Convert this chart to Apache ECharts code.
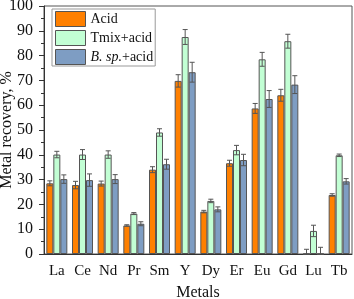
<!DOCTYPE html>
<html><head><meta charset="utf-8">
<script src="https://cdn.jsdelivr.net/npm/echarts@6/dist/echarts.min.js"></script>
<style>html,body{margin:0;padding:0;background:#fff}#c{width:354px;height:299px}</style>
</head><body><div id="c"></div>
<script>
var categories = ['La','Ce','Nd','Pr','Sm','Y','Dy','Er','Eu','Gd','Lu','Tb'];
var acid = [28.5, 27.8, 28.4, 11.5, 34, 69.8, 17.1, 36.6, 58.7, 64, 0, 23.8];
var tmix = [40.1, 40.1, 40.1, 16.3, 49, 87.5, 21.4, 41.9, 78.5, 85.8, 9.3, 39.8];
var bsp  = [30.2, 29.8, 30.2, 12.2, 36.2, 73.3, 18.0, 37.9, 62.5, 68.3, 0, 29.3];
var acidErr = [1, 1.5, 1, 0.3, 1.2, 2.5, 0.5, 1.2, 2, 2.4, 1.9, 0.5];
var tmixErr = [1.3, 2, 1.5, 0.4, 1.5, 3, 0.7, 1.9, 2.8, 2.8, 2.3, 0.5];
var bspErr  = [1.7, 2.5, 1.8, 0.8, 2, 4, 1, 2.3, 3.4, 3.6, 2.7, 1.1];
var yTicks = [0,10,20,30,40,50,60,70,80,90,100];

var FONT = '"Liberation Serif", "Times New Roman", serif';
var BW = 7;
function errSeries(vals, errs, offset) {
  return {
    type: 'custom', z: 5, silent: true,
    data: vals.map(function(v,i){ return [i, v, errs[i]]; }),
    renderItem: function(params, api){
      var i = api.value(0), v = api.value(1), e = api.value(2);
      var pTop = api.coord([i, v + e]);
      var pBot = api.coord([i, Math.max(0, v - e)]);
      var x = pTop[0] + offset * BW;
      var cap = 2.5;
      var st = {stroke:'#555', lineWidth:1};
      return {type:'group', children:[
        {type:'line', shape:{x1:x,y1:pTop[1],x2:x,y2:pBot[1]}, style:st},
        {type:'line', shape:{x1:x-cap,y1:pTop[1],x2:x+cap,y2:pTop[1]}, style:st},
        {type:'line', shape:{x1:x-cap,y1:pBot[1],x2:x+cap,y2:pBot[1]}, style:st}
      ]};
    }
  };
}
var chart = echarts.init(document.getElementById('c'));
chart.setOption({
  animation:false,
  textStyle:{fontFamily:FONT},
  grid:{left:44, right:2, top:6, bottom:45, show:true, borderColor:'#555', borderWidth:1,
        containLabel:false, outerBoundsMode:'none'},
  legend:{
    orient:'vertical', left:52, top:9, itemWidth:30, itemHeight:15, itemGap:3, icon:'rect',
    borderColor:'#999', borderWidth:1, backgroundColor:'#fff', padding:[2,2,1,3],
    data:['Acid','Tmix+acid','B. sp.+acid'],
    formatter:function(n){ return n==='B. sp.+acid' ? '{i|B. sp.}{n|+acid}' : '{n|'+n+'}'; },
    textStyle:{fontFamily:FONT, fontSize:14, color:'#111', padding:[0,0,0,0],
      rich:{i:{fontStyle:'italic', fontFamily:FONT, fontSize:14, color:'#111'}, n:{fontFamily:FONT, fontSize:14, color:'#111'}}},
    itemStyle:{borderColor:'#555', borderWidth:1}
  },
  xAxis:{
    type:'category', data:categories,
    axisLine:{lineStyle:{color:'#333'}}, axisTick:{show:false},
    axisLabel:{interval:0, fontFamily:FONT, fontSize:15, color:'#111', margin:10},
    name:'Metals', nameLocation:'middle', nameGap:31, nameMoveOverlap:false,
    nameTextStyle:{fontFamily:FONT, fontSize:16, color:'#111'}
  },
  yAxis:{
    type:'value', min:yTicks[0], max:yTicks[yTicks.length-1], interval:10,
    splitLine:{show:false},
    axisLine:{show:true, lineStyle:{color:'#333'}},
    axisTick:{show:true, length:5, lineStyle:{color:'#333'}},
    minorTick:{show:true, splitNumber:2, length:3, lineStyle:{color:'#333'}},
    axisLabel:{fontFamily:FONT, fontSize:16, color:'#111', margin:11},
    name:'Metal recovery, %', nameLocation:'middle', nameGap:29, nameMoveOverlap:false,
    nameTextStyle:{fontFamily:FONT, fontSize:16, color:'#111'}
  },
  series:[
    {name:'Acid', type:'bar', data:acid, barWidth:BW, barGap:'0%',
     itemStyle:{color:'#FF8000', borderColor:'#555', borderWidth:1}},
    {name:'Tmix+acid', type:'bar', data:tmix, barWidth:BW, barGap:'0%',
     itemStyle:{color:'#C2FFD4', borderColor:'#555', borderWidth:1}},
    {name:'B. sp.+acid', type:'bar', data:bsp, barWidth:BW, barGap:'0%',
     itemStyle:{color:'#7E9DC3', borderColor:'#555', borderWidth:1}},
    errSeries(acid, acidErr, -1),
    errSeries(tmix, tmixErr, 0),
    errSeries(bsp, bspErr, 1)
  ]
});
</script></body></html>
